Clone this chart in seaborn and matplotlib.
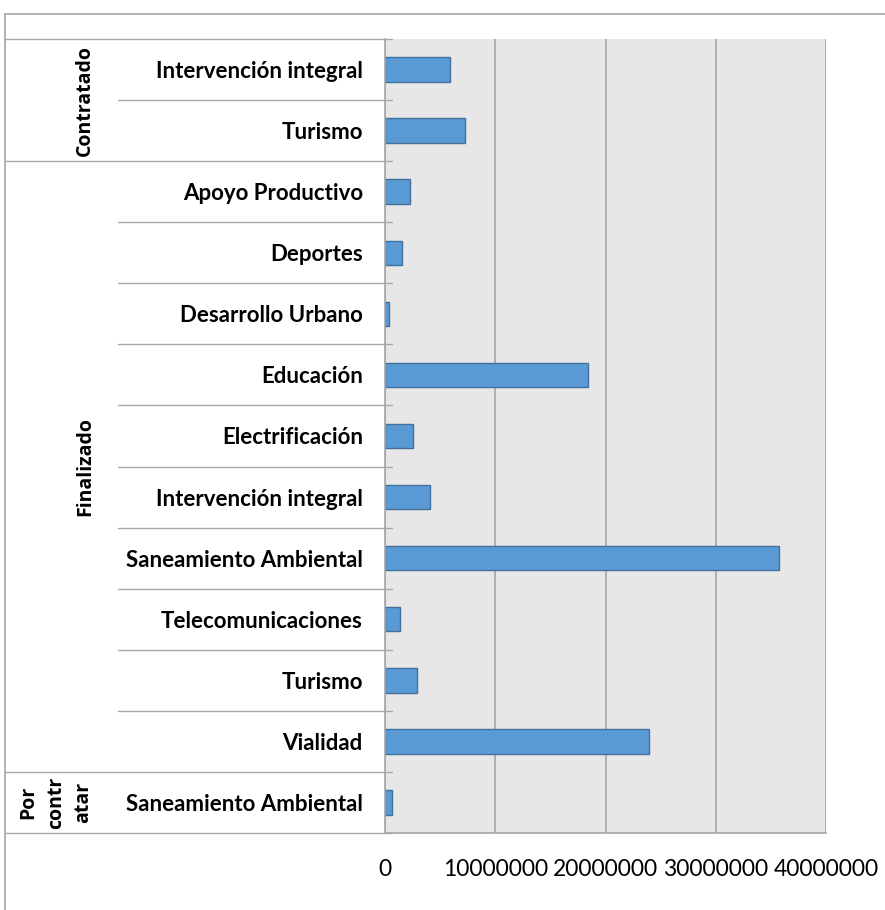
import matplotlib
matplotlib.use("Agg")
import matplotlib.pyplot as plt
import matplotlib.transforms as mtransforms
from matplotlib.lines import Line2D
import seaborn as sns
import pandas as pd

# Datos del grafico
grupos = ["Contratado", "Contratado",
          "Finalizado", "Finalizado", "Finalizado", "Finalizado", "Finalizado",
          "Finalizado", "Finalizado", "Finalizado", "Finalizado", "Finalizado",
          "Por contratar"]
categorias = ["Intervención integral", "Turismo",
              "Apoyo Productivo", "Deportes", "Desarrollo Urbano", "Educación",
              "Electrificación", "Intervención integral", "Saneamiento Ambiental",
              "Telecomunicaciones", "Turismo", "Vialidad",
              "Saneamiento Ambiental"]
montos = [5870000, 7300000,
          2240000, 1540000, 330000, 18440000, 2510000,
          4090000, 35700000, 1360000, 2930000, 23940000,
          640000]
etiquetas_grupo = {"Contratado": "Contratado",
                   "Finalizado": "Finalizado",
                   "Por contratar": "Por\ncontr\natar"}
xticks = [0, 10000000, 20000000, 30000000, 40000000]

GRIS = "#A6A6A6"
AZUL = "#5B9BD5"
BORDE = "#41719C"

sns.set_theme(style="white", rc={
    "axes.facecolor": "#E7E7E7",
    "figure.facecolor": "white",
})
plt.rcParams["font.family"] = ["Lato", "DejaVu Sans"]

df = pd.DataFrame({
    "grupo": grupos,
    "categoria": categorias,
    "monto": montos,
})
df["fila"] = [f"{g}|{c}" for g, c in zip(df["grupo"], df["categoria"])]

W, H = 885, 910
fig = plt.figure(figsize=(W / 100, H / 100), dpi=100)
ax = fig.add_axes([385 / W, 1 - 833 / H, (826 - 385) / W, (833 - 39) / H])

sns.barplot(ax=ax, data=df, x="monto", y="fila", orient="h", width=0.4,
            color=AZUL, edgecolor=BORDE, linewidth=1.0, saturation=1)

ax.set_xlim(0, 40000000)
ax.set_xticks(xticks)
ax.set_xticklabels([f"{v:d}" for v in xticks], fontsize=16.5, color="black")
ax.set_ylabel("")
ax.set_xlabel("")
ax.set_yticks(range(len(df)))
ax.set_yticklabels(df["categoria"], fontsize=16, fontweight="bold", color="black")
ax.tick_params(axis="y", length=0, pad=16)
ax.tick_params(axis="x", length=6.5, width=1, color=GRIS, pad=12, direction="out")

ax.grid(axis="x", color=GRIS, linewidth=1.2)
ax.set_axisbelow(True)
for lado in ["top", "right"]:
    ax.spines[lado].set_visible(False)
for lado in ["left", "bottom"]:
    ax.spines[lado].set_color(GRIS)
    ax.spines[lado].set_linewidth(1.2)

# separadores de categorias y grupos
trans = mtransforms.blended_transform_factory(ax.transAxes, ax.transData)
ancho = (826 - 385)
x_fin = (392 - 385) / ancho
x_cat = (118 - 385) / ancho
x_grp = (5 - 385) / ancho
n = len(df)
limites = [i - 0.5 for i in range(n + 1)]
for i, y in enumerate(limites):
    if i == 0 or i == n or grupos[i] != grupos[i - 1]:
        x0 = x_grp
    else:
        x0 = x_cat
    ax.add_line(Line2D([x0, x_fin], [y, y], transform=trans, color=GRIS,
                       linewidth=1.0, clip_on=False))

# etiquetas de grupo
x_txt = {"Contratado": (85 - 385) / ancho, "Finalizado": (85 - 385) / ancho,
         "Por contratar": (56 - 385) / ancho}
for g in dict.fromkeys(grupos):
    idx = [i for i, gg in enumerate(grupos) if gg == g]
    yc = (idx[0] + idx[-1]) / 2
    ax.text(x_txt[g], yc, etiquetas_grupo[g], transform=trans, rotation=90,
            ha="center", va="center", multialignment="center",
            fontsize=14, fontweight="bold", family=["Open Sans", "DejaVu Sans"],
            linespacing=1.5, color="black")

# borde del area del grafico
fig.add_artist(Line2D([5 / W, 1], [1 - 14 / H, 1 - 14 / H], color=GRIS,
                      linewidth=1.2, transform=fig.transFigure))
fig.add_artist(Line2D([5 / W, 5 / W], [0, 1 - 14 / H], color=GRIS,
                      linewidth=1.2, transform=fig.transFigure))

fig.savefig("out.png", dpi=100)
